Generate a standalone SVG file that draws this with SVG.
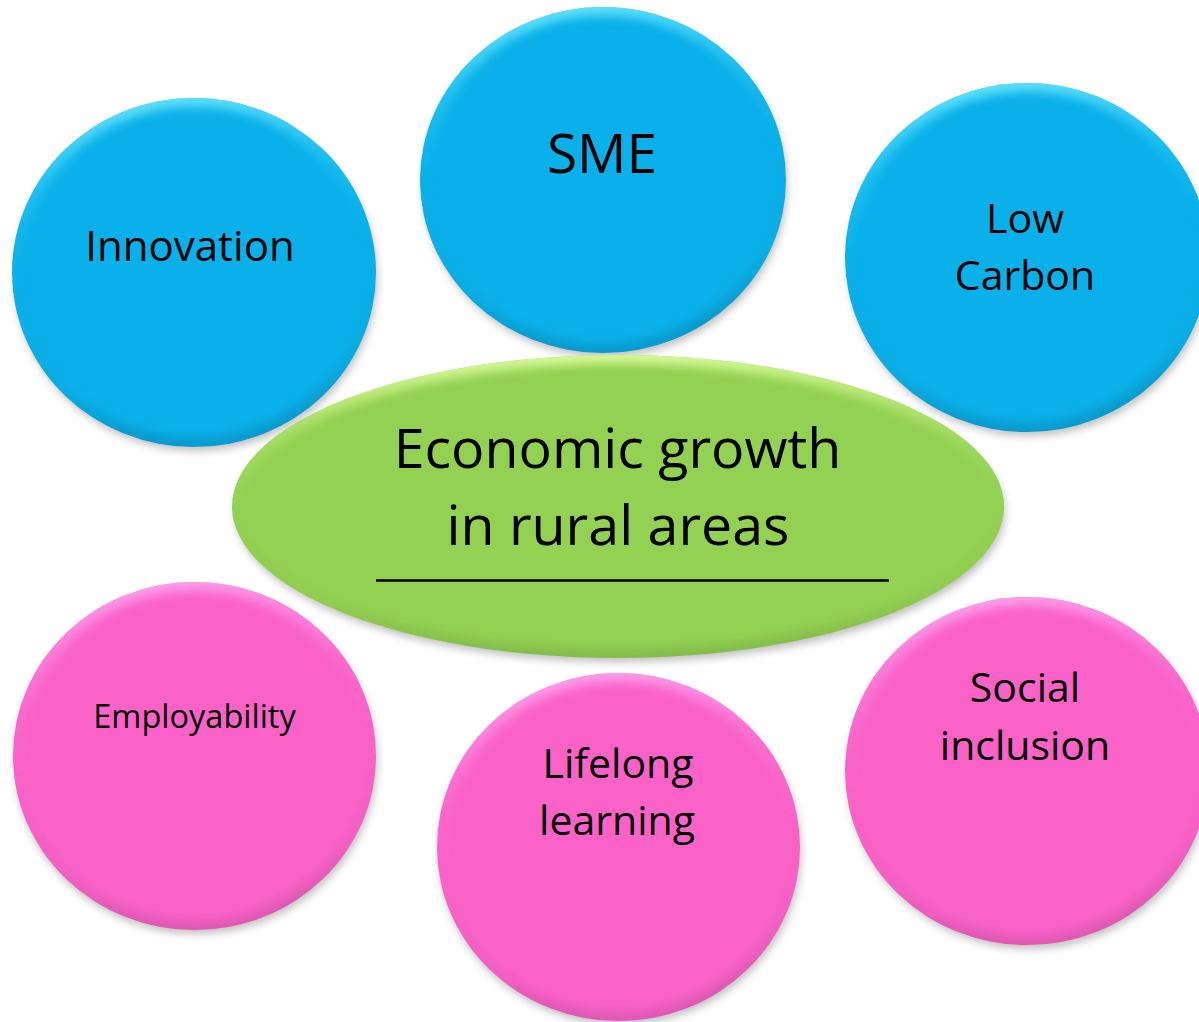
<svg xmlns="http://www.w3.org/2000/svg" width="1199" height="1022" viewBox="0 0 1199 1022">
<style>
  .shadow { fill:#000; opacity:0.25; }
  .bevel { fill:none; stroke-width:18; }
  .blue .fill { fill:#0AB0E9; }
  .pink .fill { fill:#FA62C8; }
  .green .fill { fill:#93D152; }
  .blue .bevel { stroke:url(#bevBlue); }
  .pink .bevel { stroke:url(#bevPink); }
  .green .bevel { stroke:url(#bevGreen); }
  text { font-family:"Open Sans","Noto Sans","Liberation Sans",sans-serif; fill:#000; text-anchor:middle; }
  .t41 { font-size:41px; }
  .t42 { font-size:42px; }
  .t32 { font-size:32.5px; }
  .t55 { font-size:55px; }
  .t56 { font-size:55.5px; }
</style>
<defs>
  <filter id="blurShadow" x="-10%" y="-10%" width="120%" height="130%">
    <feGaussianBlur stdDeviation="4"/>
  </filter>
  <filter id="soft" x="-10%" y="-10%" width="120%" height="120%">
    <feGaussianBlur stdDeviation="5"/>
  </filter>
  <clipPath id="clipE" clipPathUnits="objectBoundingBox">
    <ellipse cx="0.5" cy="0.5" rx="0.5" ry="0.5"/>
  </clipPath>
  <linearGradient id="bevBlue" x1="0" y1="0" x2="0.15" y2="1">
    <stop offset="0" stop-color="#7FF0FF" stop-opacity="0.95"/>
    <stop offset="0.3" stop-color="#40D8FF" stop-opacity="0.35"/>
    <stop offset="0.55" stop-color="#0AB0E9" stop-opacity="0"/>
    <stop offset="0.85" stop-color="#000" stop-opacity="0.03"/>
    <stop offset="1" stop-color="#000" stop-opacity="0.12"/>
  </linearGradient>
  <linearGradient id="bevPink" x1="0" y1="0" x2="0.15" y2="1">
    <stop offset="0" stop-color="#FFB0F4" stop-opacity="0.95"/>
    <stop offset="0.3" stop-color="#FF90E8" stop-opacity="0.35"/>
    <stop offset="0.55" stop-color="#FA62C8" stop-opacity="0"/>
    <stop offset="0.85" stop-color="#000" stop-opacity="0.03"/>
    <stop offset="1" stop-color="#000" stop-opacity="0.1"/>
  </linearGradient>
  <linearGradient id="bevGreen" x1="0" y1="0" x2="0.05" y2="1">
    <stop offset="0" stop-color="#E0FFA0" stop-opacity="0.95"/>
    <stop offset="0.3" stop-color="#C0F080" stop-opacity="0.35"/>
    <stop offset="0.55" stop-color="#93D152" stop-opacity="0"/>
    <stop offset="0.85" stop-color="#000" stop-opacity="0.03"/>
    <stop offset="1" stop-color="#000" stop-opacity="0.1"/>
  </linearGradient>
</defs>

<rect x="0" y="0" width="1199" height="1022" fill="#FFFFFF"/>

<g id="connectors"></g>

<g id="innovation" class="node blue">
  <ellipse class="shadow" cx="196" cy="278" rx="181" ry="173" filter="url(#blurShadow)"/>
  <ellipse class="fill" cx="194" cy="272.5" rx="182" ry="174.5"/>
  <ellipse class="bevel" cx="194" cy="272.5" rx="182" ry="174.5" filter="url(#soft)" clip-path="url(#clipE)"/>
  <text class="t42" x="190" y="261">Innovation</text>
</g>

<g id="sme" class="node blue">
  <ellipse class="shadow" cx="605" cy="185" rx="182" ry="172" filter="url(#blurShadow)"/>
  <ellipse class="fill" cx="603" cy="180" rx="183" ry="173"/>
  <ellipse class="bevel" cx="603" cy="180" rx="183" ry="173" filter="url(#soft)" clip-path="url(#clipE)"/>
  <text class="t55" x="602" y="173">SME</text>
</g>

<g id="low-carbon" class="node blue">
  <ellipse class="shadow" cx="1029" cy="263" rx="181" ry="173" filter="url(#blurShadow)"/>
  <ellipse class="fill" cx="1027" cy="257.5" rx="182" ry="174.5"/>
  <ellipse class="bevel" cx="1027" cy="257.5" rx="182" ry="174.5" filter="url(#soft)" clip-path="url(#clipE)"/>
  <text class="t41" x="1025" y="233">Low</text>
  <text class="t41" x="1025" y="290">Carbon</text>
</g>

<g id="employability" class="node pink">
  <ellipse class="shadow" cx="196" cy="761" rx="181" ry="173" filter="url(#blurShadow)"/>
  <ellipse class="fill" cx="194.5" cy="756" rx="181.5" ry="174"/>
  <ellipse class="bevel" cx="194.5" cy="756" rx="181.5" ry="174" filter="url(#soft)" clip-path="url(#clipE)"/>
  <text class="t32" x="194.5" y="728">Employability</text>
</g>

<g id="lifelong-learning" class="node pink">
  <ellipse class="shadow" cx="620" cy="852" rx="181" ry="173" filter="url(#blurShadow)"/>
  <ellipse class="fill" cx="618.5" cy="847" rx="181.5" ry="174"/>
  <ellipse class="bevel" cx="618.5" cy="847" rx="181.5" ry="174" filter="url(#soft)" clip-path="url(#clipE)"/>
  <text class="t41" x="618" y="778">Lifelong</text>
  <text class="t41" x="617" y="835">learning</text>
</g>

<g id="social-inclusion" class="node pink">
  <ellipse class="shadow" cx="1029" cy="776" rx="181" ry="173" filter="url(#blurShadow)"/>
  <ellipse class="fill" cx="1027" cy="771" rx="182" ry="174"/>
  <ellipse class="bevel" cx="1027" cy="771" rx="182" ry="174" filter="url(#soft)" clip-path="url(#clipE)"/>
  <text class="t41" x="1025" y="702">Social</text>
  <text class="t41" x="1025" y="760">inclusion</text>
</g>

<g id="economic-growth" class="node green">
  <ellipse class="shadow" cx="620" cy="512" rx="385" ry="150" filter="url(#blurShadow)"/>
  <ellipse class="fill" cx="618" cy="506.5" rx="386" ry="151.5"/>
  <ellipse class="bevel" cx="618" cy="506.5" rx="386" ry="151.5" filter="url(#soft)" clip-path="url(#clipE)"/>
  <text class="t56" x="617.5" y="468">Economic growth</text>
  <text class="t56" x="618" y="545">in rural areas</text>
  <line x1="376" y1="580.5" x2="889" y2="580.5" stroke="#000" stroke-width="2.5"/>
</g>
</svg>
